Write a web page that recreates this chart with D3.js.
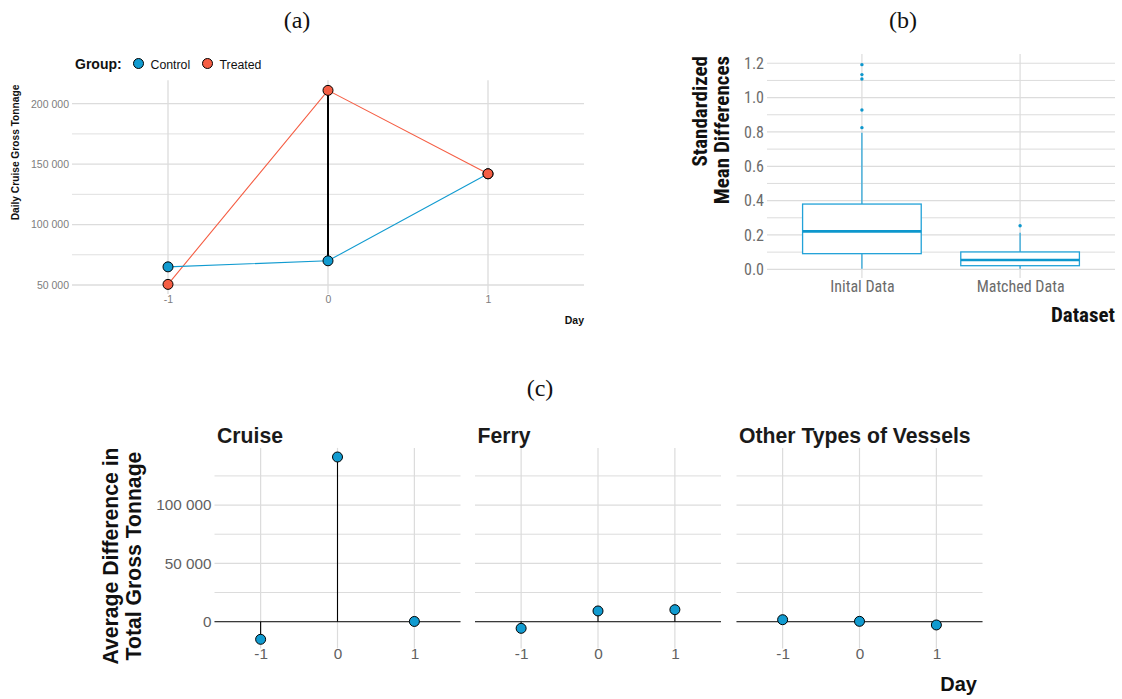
<!DOCTYPE html>
<html>
<head>
<meta charset="utf-8">
<script src="https://cdn.jsdelivr.net/npm/d3@7"></script>
<style>
  html, body { margin: 0; padding: 0; background: #fff; }
  svg { display: block; }
</style>
</head>
<body>
<svg id="fig" width="1122" height="699"></svg>
<script>
// ---- (a) daily cruise gross tonnage by group ----
const days = [-1, 0, 1];
const groups = ["Control", "Treated"];
const controlTonnage = [65000, 70000, 142000];
const treatedTonnage = [50500, 211000, 142000];
const tonnageTicks = [50000, 100000, 150000, 200000];
const tonnageMinor = [75000, 125000, 175000];

// ---- (b) balance of covariates ----
const datasets = ["Inital Data", "Matched Data"];
const smdLowerWhisker = [0.003, 0.003];
const smdQ1 = [0.091, 0.021];
const smdMedian = [0.221, 0.054];
const smdQ3 = [0.380, 0.101];
const smdUpperWhisker = [0.796, 0.213];
const smdOutliers = [[1.192, 1.134, 1.108, 0.928, 0.825], [0.254]];
const smdTicks = [0, 0.2, 0.4, 0.6, 0.8, 1.0, 1.2];
const smdMinor = [0.1, 0.3, 0.5, 0.7, 0.9, 1.1];

// ---- (c) average difference by vessel type ----
const vesselTypes = ["Cruise", "Ferry", "Other Types of Vessels"];
const diffCruise = [-15100, 141200, 200];
const diffFerry = [-5700, 9200, 10300];
const diffOther = [1700, 300, -2800];
const diffTicks = [0, 50000, 100000];
const diffMinor = [25000, 75000, 125000];

const BLUE = "#119bd0";
const RED = "#f55e44";
const BOX = "#22a2d8";
const GRID = "#dcdcdc";
const SANS = "'Liberation Sans', Arial, Helvetica, sans-serif";
const COND = "'Roboto Condensed', Roboto, sans-serif";
const SERIF = "'Liberation Serif', 'DejaVu Serif', serif";

const fmt = v => d3.format(",")(v).replace(/,/g, " ");
const dayFmt = d => String(d);
const svg = d3.select("#fig");

// panel letters
[["(a)", 297, 28], ["(b)", 903, 28], ["(c)", 540, 396]].forEach(([t, x, y]) => {
  svg.append("text").attr("x", x).attr("y", y).attr("text-anchor", "middle")
    .attr("font-family", SERIF).attr("font-size", 24).attr("fill", "#111").text(t);
});

// ================= (a) =================
{
  const g = svg.append("g");
  const x = d3.scaleLinear().domain([-1.6, 1.6]).range([72, 584]);
  const y = d3.scaleLinear().domain([42460, 219340]).range([294.1, 80.3]);
  const [x0, x1] = x.range();
  const [yb, yt] = y.range();

  g.selectAll(".minor").data(tonnageMinor).join("line")
    .attr("x1", x0).attr("x2", x1).attr("y1", d => y(d)).attr("y2", d => y(d))
    .attr("stroke", GRID).attr("stroke-width", 0.9);
  g.selectAll(".major").data(tonnageTicks).join("line")
    .attr("x1", x0).attr("x2", x1).attr("y1", d => y(d)).attr("y2", d => y(d))
    .attr("stroke", GRID).attr("stroke-width", 1.3);
  g.selectAll(".vmajor").data(days).join("line")
    .attr("x1", d => x(d)).attr("x2", d => x(d)).attr("y1", yb).attr("y2", yt)
    .attr("stroke", GRID).attr("stroke-width", 1.3);

  // axes (text only)
  const yAxis = g.append("g").attr("transform", `translate(${x0},0)`)
    .call(d3.axisLeft(y).tickValues(tonnageTicks).tickFormat(fmt).tickSize(0).tickPadding(3));
  yAxis.select(".domain").remove();
  yAxis.selectAll("text").attr("font-family", SANS).attr("font-size", 10.5).attr("fill", "#7d7d7d");
  const xAxis = g.append("g").attr("transform", `translate(0,${yb})`)
    .call(d3.axisBottom(x).tickValues(days).tickFormat(dayFmt).tickSize(0).tickPadding(1));
  xAxis.select(".domain").remove();
  xAxis.selectAll("text").attr("font-family", SANS).attr("font-size", 10.5).attr("fill", "#7d7d7d");

  g.append("text").attr("x", x1).attr("y", 324).attr("text-anchor", "end")
    .attr("font-family", SANS).attr("font-weight", "bold").attr("font-size", 10.5).attr("fill", "#111").text("Day");
  g.append("text").attr("transform", "translate(18.5,152.5) rotate(-90)").attr("text-anchor", "middle")
    .attr("font-family", SANS).attr("font-weight", "bold").attr("font-size", 10.2).attr("fill", "#111")
    .text("Daily Cruise Gross Tonnage");

  const line = d3.line().x((d, i) => x(days[i])).y(d => y(d));
  g.append("path").attr("d", line(treatedTonnage)).attr("fill", "none").attr("stroke", RED).attr("stroke-width", 1.1);
  g.append("path").attr("d", line(controlTonnage)).attr("fill", "none").attr("stroke", BLUE).attr("stroke-width", 1.1);

  // treatment effect segment at day 0
  const i0 = days.indexOf(0);
  g.append("line").attr("x1", x(0)).attr("x2", x(0))
    .attr("y1", y(controlTonnage[i0])).attr("y2", y(treatedTonnage[i0]))
    .attr("stroke", "#000").attr("stroke-width", 2);

  const pts = [];
  days.forEach((d, i) => { pts.push({ d, v: controlTonnage[i], c: BLUE }); });
  days.forEach((d, i) => { pts.push({ d, v: treatedTonnage[i], c: RED }); });
  g.selectAll(".pt").data(pts).join("circle")
    .attr("cx", p => x(p.d)).attr("cy", p => y(p.v)).attr("r", 5)
    .attr("fill", p => p.c).attr("stroke", "#000").attr("stroke-width", 1);

  // legend
  const lg = g.append("g");
  lg.append("text").attr("x", 75).attr("y", 68.5).attr("font-family", SANS).attr("font-weight", "bold")
    .attr("font-size", 14).attr("fill", "#111").text("Group:");
  const legX = [138.5, 207.5];
  groups.forEach((name, i) => {
    lg.append("circle").attr("cx", legX[i]).attr("cy", 63.5).attr("r", 5)
      .attr("fill", i === 0 ? BLUE : RED).attr("stroke", "#000").attr("stroke-width", 1);
    lg.append("text").attr("x", legX[i] + 12).attr("y", 68.5).attr("font-family", SANS)
      .attr("font-size", 12.3).attr("fill", "#111").text(name);
  });
}

// ================= (b) =================
{
  const g = svg.append("g");
  const x = d3.scalePoint().domain(datasets).range([767, 1115]).padding(0.6);
  const y = d3.scaleLinear().domain([-0.0507, 1.254]).range([278, 54]);
  const [x0, x1] = x.range();
  const [yb, yt] = y.range();
  const bw = x.step() * 0.75;

  g.selectAll(".minor").data(smdMinor).join("line")
    .attr("x1", x0).attr("x2", x1).attr("y1", d => y(d)).attr("y2", d => y(d))
    .attr("stroke", GRID).attr("stroke-width", 1);
  g.selectAll(".major").data(smdTicks).join("line")
    .attr("x1", x0).attr("x2", x1).attr("y1", d => y(d)).attr("y2", d => y(d))
    .attr("stroke", GRID).attr("stroke-width", 1.2);
  g.selectAll(".vmajor").data(datasets).join("line")
    .attr("x1", d => x(d)).attr("x2", d => x(d)).attr("y1", yb).attr("y2", yt)
    .attr("stroke", GRID).attr("stroke-width", 1.2);

  const yAxis = g.append("g").attr("transform", `translate(${x0},0)`)
    .call(d3.axisLeft(y).tickValues(smdTicks).tickFormat(d3.format(".1f")).tickSize(0).tickPadding(3));
  yAxis.select(".domain").remove();
  yAxis.selectAll("text").attr("font-family", COND).attr("font-size", 16).attr("fill", "#6b6b6b");
  const xAxis = g.append("g").attr("transform", `translate(0,${yb})`)
    .call(d3.axisBottom(x).tickSize(0).tickPadding(3));
  xAxis.select(".domain").remove();
  xAxis.selectAll("text").attr("font-family", COND).attr("font-size", 16).attr("fill", "#6b6b6b");

  g.append("text").attr("x", x1).attr("y", 321.5).attr("text-anchor", "end")
    .attr("font-family", COND).attr("font-weight", "bold").attr("font-size", 21).attr("fill", "#111").text("Dataset");
  const yt1 = g.append("text").attr("transform", "translate(707,56) rotate(-90)").attr("text-anchor", "end")
    .attr("font-family", COND).attr("font-weight", "bold").attr("font-size", 21).attr("fill", "#111");
  yt1.append("tspan").attr("x", 0).attr("y", 0).text("Standardized");
  yt1.append("tspan").attr("x", 0).attr("y", 21.7).text("Mean Differences");

  datasets.forEach((ds, i) => {
    const cx = x(ds);
    g.append("line").attr("x1", cx).attr("x2", cx).attr("y1", y(smdQ3[i])).attr("y2", y(smdUpperWhisker[i]))
      .attr("stroke", BOX).attr("stroke-width", 1.2);
    g.append("line").attr("x1", cx).attr("x2", cx).attr("y1", y(smdQ1[i])).attr("y2", y(smdLowerWhisker[i]))
      .attr("stroke", BOX).attr("stroke-width", 1.2);
    g.append("rect").attr("x", cx - bw / 2).attr("width", bw)
      .attr("y", y(smdQ3[i])).attr("height", y(smdQ1[i]) - y(smdQ3[i]))
      .attr("fill", "#fff").attr("stroke", BOX).attr("stroke-width", 1.3);
    g.append("line").attr("x1", cx - bw / 2).attr("x2", cx + bw / 2)
      .attr("y1", y(smdMedian[i])).attr("y2", y(smdMedian[i]))
      .attr("stroke", "#0d97cd").attr("stroke-width", 2.6);
    g.selectAll(".out" + i).data(smdOutliers[i]).join("circle")
      .attr("cx", cx).attr("cy", d => y(d)).attr("r", 1.7).attr("fill", "#0d97cd");
  });
}

// ================= (c) =================
{
  const series = [diffCruise, diffFerry, diffOther];
  const lefts = [214.5, 475, 736.5];
  const pw = 246;
  const y = d3.scaleLinear().domain([-22900, 149000]).range([648.4, 447.9]);
  const [yb, yt] = y.range();

  vesselTypes.forEach((name, k) => {
    const g = svg.append("g");
    const x = d3.scaleLinear().domain([-1.6, 1.6]).range([lefts[k], lefts[k] + pw]);
    const [x0, x1] = x.range();

    g.selectAll(".minor").data(diffMinor).join("line")
      .attr("x1", x0).attr("x2", x1).attr("y1", d => y(d)).attr("y2", d => y(d))
      .attr("stroke", GRID).attr("stroke-width", 1);
    g.selectAll(".major").data(diffTicks).join("line")
      .attr("x1", x0).attr("x2", x1).attr("y1", d => y(d)).attr("y2", d => y(d))
      .attr("stroke", GRID).attr("stroke-width", 1.2);
    g.selectAll(".vmajor").data(days).join("line")
      .attr("x1", d => x(d)).attr("x2", d => x(d)).attr("y1", yb).attr("y2", yt)
      .attr("stroke", GRID).attr("stroke-width", 1.2);

    // reference line at zero
    g.append("line").attr("x1", x0).attr("x2", x1).attr("y1", y(0)).attr("y2", y(0))
      .attr("stroke", "#3a3a3a").attr("stroke-width", 1.2);

    if (k === 0) {
      const yAxis = g.append("g").attr("transform", `translate(${x0},0)`)
        .call(d3.axisLeft(y).tickValues(diffTicks).tickFormat(fmt).tickSize(0).tickPadding(3));
      yAxis.select(".domain").remove();
      yAxis.selectAll("text").attr("font-family", SANS).attr("font-size", 15.3).attr("fill", "#616161");
    }
    const xAxis = g.append("g").attr("transform", `translate(0,${yb})`)
      .call(d3.axisBottom(x).tickValues(days).tickFormat(dayFmt).tickSize(0).tickPadding(0));
    xAxis.select(".domain").remove();
    xAxis.selectAll("text").attr("font-family", SANS).attr("font-size", 15.3).attr("fill", "#616161");

    g.append("text").attr("x", x0 + 2.5).attr("y", 442.5).attr("font-family", SANS).attr("font-weight", "bold")
      .attr("font-size", 21.2).attr("fill", "#1a1a1a").text(name);

    g.selectAll(".stem").data(series[k]).join("line")
      .attr("x1", (d, i) => x(days[i])).attr("x2", (d, i) => x(days[i]))
      .attr("y1", y(0)).attr("y2", d => y(d)).attr("stroke", "#000").attr("stroke-width", 1.1);
    g.selectAll(".pt").data(series[k]).join("circle")
      .attr("cx", (d, i) => x(days[i])).attr("cy", d => y(d)).attr("r", 5)
      .attr("fill", BLUE).attr("stroke", "#000").attr("stroke-width", 1);
  });

  svg.append("text").attr("x", 977).attr("y", 691).attr("text-anchor", "end")
    .attr("font-family", SANS).attr("font-weight", "bold").attr("font-size", 20).attr("fill", "#111").text("Day");
  const t = svg.append("text").attr("transform", "translate(118,556) rotate(-90)").attr("text-anchor", "middle")
    .attr("font-family", SANS).attr("font-weight", "bold").attr("font-size", 21.2).attr("fill", "#111");
  t.append("tspan").attr("x", 0).attr("y", 0).text("Average Difference in");
  t.append("tspan").attr("x", 0).attr("y", 22.5).text("Total Gross Tonnage");
}
</script>
</body>
</html>
